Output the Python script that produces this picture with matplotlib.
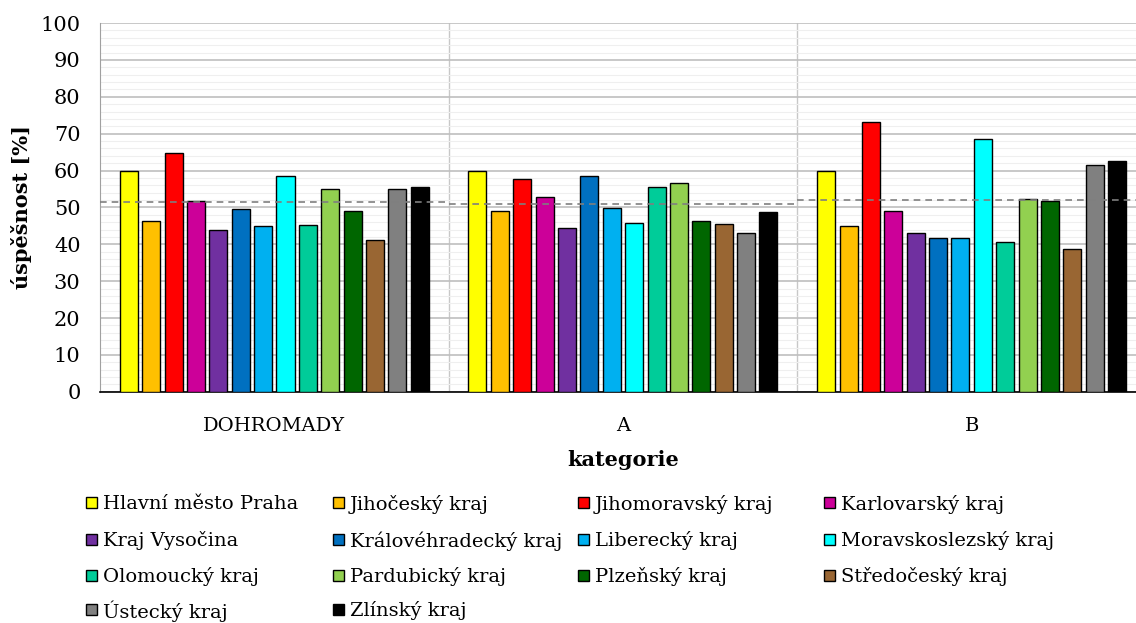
import matplotlib.pyplot as plt
from matplotlib.patches import Rectangle
from matplotlib.ticker import MultipleLocator

plt.rcParams['font.family'] = ['DejaVu Serif']

# data
categories = ['DOHROMADY', 'A', 'B']
regions = ['Hlavní město Praha', 'Jihočeský kraj', 'Jihomoravský kraj', 'Karlovarský kraj',
           'Kraj Vysočina', 'Královéhradecký kraj', 'Liberecký kraj', 'Moravskoslezský kraj',
           'Olomoucký kraj', 'Pardubický kraj', 'Plzeňský kraj', 'Středočeský kraj',
           'Ústecký kraj', 'Zlínský kraj']
colors = ['#FFFF00', '#FFC000', '#FF0000', '#CC0099', '#7030A0', '#0070C0', '#00B0F0',
          '#00FFFF', '#00CC99', '#92D050', '#006600', '#996633', '#808080', '#000000']
values_total = [60.0, 46.4, 64.9, 51.7, 43.9, 49.5, 44.9, 58.6, 45.3, 54.9, 49.0, 41.1, 55.1, 55.5]
values_a = [60.0, 49.0, 57.7, 52.8, 44.4, 58.6, 49.9, 45.8, 55.6, 56.6, 46.3, 45.5, 43.2, 48.7]
values_b = [60.0, 45.1, 73.1, 49.0, 43.0, 41.6, 41.6, 68.6, 40.6, 52.4, 51.7, 38.8, 61.6, 62.5]
averages = [51.5, 51.0, 52.1]

values = [values_total, values_a, values_b]

fig = plt.figure(figsize=(11.36, 6.23), dpi=100)
ax = fig.add_axes([0.088, 0.371, 0.9208, 0.592])

slot = 0.0642
width = 0.0517
n = len(regions)
for g, group_vals in enumerate(values):
    for i, v in enumerate(group_vals):
        x = g + (i - (n - 1) / 2) * slot
        ax.bar(x, v, width=width, color=colors[i], edgecolor='black', linewidth=1, zorder=3)
    # average line across the group
    ax.plot([g - 0.5, g + 0.5], [averages[g], averages[g]], color='#7f7f7f',
            linestyle=(0, (4, 3)), linewidth=1.2, zorder=4)

ax.set_xlim(-0.5, 2.5)
ax.set_ylim(0, 100)
ax.yaxis.set_major_locator(MultipleLocator(10))
ax.yaxis.set_minor_locator(MultipleLocator(2))
ax.grid(axis='y', which='major', color='#bfbfbf', linewidth=1.2, zorder=0)
ax.grid(axis='y', which='minor', color='#efefef', linewidth=0.8, zorder=0)
for xs in [0.5, 1.5]:
    ax.axvline(xs, color='#c8c8c8', linewidth=1, zorder=1)

ax.set_xticks(range(len(categories)))
ax.set_xticklabels(categories)
ax.tick_params(axis='x', length=0, pad=18, labelsize=14)
ax.tick_params(axis='y', which='both', length=0, pad=14, labelsize=15)

ax.set_xlabel('kategorie', fontsize=15, fontweight='bold', labelpad=11)
ax.set_ylabel('úspěšnost [%]', fontsize=15, fontweight='bold', va='center')
ax.yaxis.set_label_coords(-0.075, 0.5)

for side in ['top', 'right']:
    ax.spines[side].set_visible(False)
ax.spines['left'].set_color('#a0a0a0')
ax.spines['bottom'].set_color('black')
ax.spines['bottom'].set_linewidth(1.2)

# legend: four equal columns, filled row by row
W, H = 1136, 623
col_px = [86, 333, 578, 824]
row_px = [502, 539, 575, 609]
box = 11
for i, (name, col) in enumerate(zip(regions, colors)):
    r, c = divmod(i, 4)
    x0 = col_px[c]
    y0 = row_px[r]
    fig.patches.append(Rectangle((x0 / W, (H - y0 - box / 2) / H), box / W, box / H,
                                 facecolor=col, edgecolor='black', linewidth=1,
                                 transform=fig.transFigure))
    fig.text((x0 + box + 6) / W, (H - y0) / H, name, fontsize=14,
             ha='left', va='center_baseline')

fig.savefig('out.png', dpi=100)
